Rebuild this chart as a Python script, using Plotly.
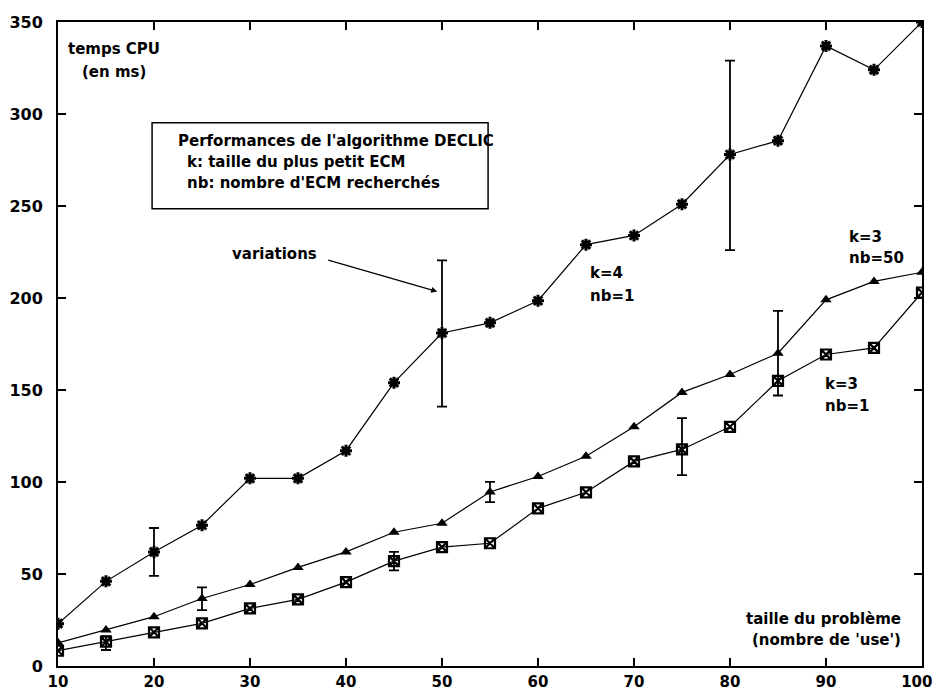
import plotly.graph_objects as go

x = [10, 15, 20, 25, 30, 35, 40, 45, 50, 55, 60, 65, 70, 75, 80, 85, 90, 95, 100]
k4_nb1 = [23, 46, 62, 76.5, 102, 102, 117, 154, 181, 186.5, 198.5, 229, 234, 251, 278, 285.5, 337, 324, 350]
k3_nb50 = [12.6, 19.5, 26.8, 36.7, 44.3, 53.6, 62, 72.7, 77.6, 94.6, 103, 114, 130, 148.7, 158.4, 170, 199, 209, 214]
k3_nb1 = [8.3, 13.2, 18.3, 23.2, 31.3, 36.2, 45.6, 57, 64.6, 66.7, 85.7, 94.4, 111.2, 117.7, 130, 155, 169.3, 172.9, 203]

x_tickvals = [10, 20, 30, 40, 50, 60, 70, 80, 90, 100]
x_ticktext = ["10", "20", "30", "40", "50", "60", "70", "80", "90", "100\u00a0\u00a0"]
y_tickvals = [0, 50, 100, 150, 200, 250, 300, 350]

# error bars (variations)
err_k4_x = [20, 50, 80]
err_k4_y = [62, 181, 278]
err_k4_plus = [13, 39.5, 51]
err_k4_minus = [13, 40, 52]

err_k50_x = [25, 55, 85]
err_k50_y = [36.7, 94.6, 170]
err_k50_plus = [6, 5.5, 23]
err_k50_minus = [6.3, 5.5, 23]

err_k1_x = [15, 45, 75]
err_k1_y = [13.2, 57, 117.7]
err_k1_plus = [3, 5, 17]
err_k1_minus = [4.5, 5, 14]

FONT = "DejaVu Sans"

fig = go.Figure()

fig.add_trace(go.Scatter(x=x, y=k4_nb1, mode="lines+markers",
                         line=dict(color="black", width=1.2),
                         marker=dict(symbol="asterisk-open", size=10, color="black",
                                     line=dict(color="black", width=3))))
fig.add_trace(go.Scatter(x=x, y=k3_nb50, mode="lines+markers",
                         line=dict(color="black", width=1.2),
                         marker=dict(symbol="triangle-up", size=10, color="black")))
fig.add_trace(go.Scatter(x=x, y=k3_nb1, mode="lines+markers",
                         line=dict(color="black", width=1.2),
                         marker=dict(symbol="square-x-open", size=10, color="black",
                                     line=dict(color="black", width=2.2))))

for ex, ey, ep, em in [(err_k4_x, err_k4_y, err_k4_plus, err_k4_minus),
                       (err_k50_x, err_k50_y, err_k50_plus, err_k50_minus),
                       (err_k1_x, err_k1_y, err_k1_plus, err_k1_minus)]:
    fig.add_trace(go.Scatter(x=ex, y=ey, mode="markers",
                             marker=dict(size=1, opacity=0),
                             error_y=dict(type="data", symmetric=False, array=ep, arrayminus=em,
                                          color="black", thickness=1.8, width=5)))

tfont = dict(family=FONT, size=15, color="black", weight="bold")

def ann(text, xx, yy, xanchor="left"):
    fig.add_annotation(x=xx, y=yy, text=text, showarrow=False, xanchor=xanchor,
                       yanchor="middle", font=tfont, xref="x", yref="y")

ann("temps CPU", 15.8, 335.5, "center")
ann("(en ms)", 15.8, 323, "center")
ann("Performances de l'algorithme DECLIC", 22.3, 285.4)
ann("k: taille du plus petit ECM", 23.2, 274)
ann("nb: nombre d'ECM recherchés", 23.2, 262.6)
ann("variations", 27.9, 224)
ann("k=4", 65.2, 213.8)
ann("nb=1", 65.2, 201.3)
ann("k=3", 92.2, 233)
ann("nb=50", 92.2, 221.5)
ann("k=3", 89.7, 153.5)
ann("nb=1", 89.7, 141.5)
ann("taille du problème", 98.0, 25.5, "right")
ann("(nombre de 'use')", 98.0, 14, "right")

fig.add_annotation(x=49.5, y=203.5, ax=38.0, ay=220.8, axref="x", ayref="y",
                   xref="x", yref="y", text="", showarrow=True,
                   arrowhead=2, arrowsize=1, arrowwidth=1.2, arrowcolor="black")

fig.add_shape(type="rect", x0=19.8, x1=54.8, y0=248.5, y1=295.2, xref="x", yref="y",
              line=dict(color="black", width=1.5), fillcolor="rgba(0,0,0,0)")

fig.update_layout(
    width=924, height=684,
    margin=dict(l=50, r=10, t=14, b=26, autoexpand=False),
    plot_bgcolor="white", paper_bgcolor="white",
    showlegend=False,
    font=dict(family=FONT, size=16, color="black", weight="bold"),
)
fig.update_xaxes(range=[10, 100], tickvals=x_tickvals, ticktext=x_ticktext, ticks="inside",
                 ticklen=8, tickwidth=1.5, tickcolor="black", showline=True, linewidth=2,
                 linecolor="black", mirror="ticks", showgrid=False, zeroline=False,
                 ticklabelstandoff=1, automargin=False, ticklabeloverflow="allow",
                 tickfont=dict(size=15))
fig.update_yaxes(range=[0, 350], tickvals=y_tickvals, ticks="inside",
                 ticklen=8, tickwidth=1.5, tickcolor="black", showline=True, linewidth=2,
                 linecolor="black", mirror="ticks", showgrid=False, zeroline=False,
                 ticklabelstandoff=10, automargin=False)

fig.write_html("out.html")
